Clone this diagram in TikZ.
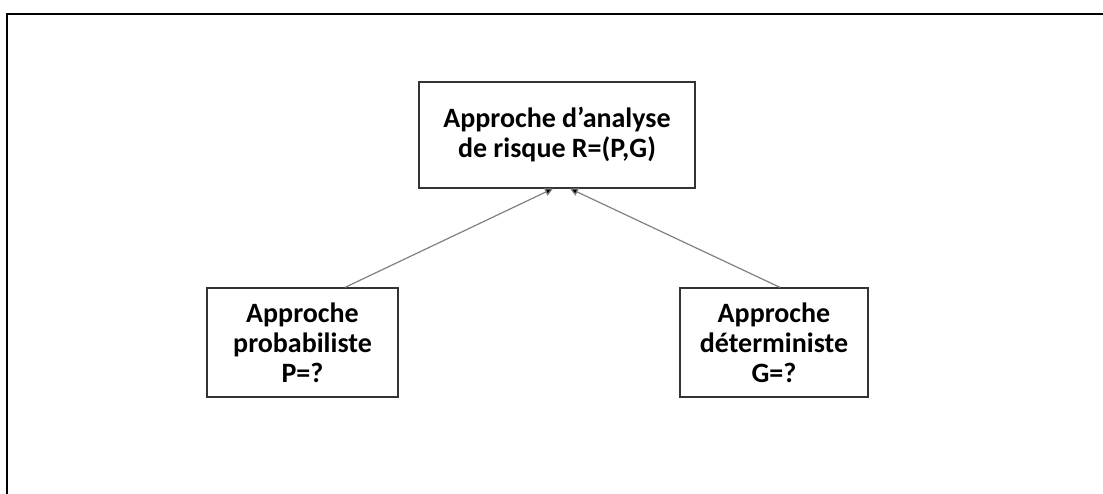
\documentclass[tikz,border=0pt]{standalone}
\usepackage{fontspec}
\setmainfont{Carlito}
\usetikzlibrary{arrows.meta}
\tikzset{
  box/.style={draw=black!80, line width=1.2pt, align=center, inner sep=0pt,
    font=\fontsize{28}{30}\selectfont\bfseries},
  conn/.style={draw=black!50, line width=1.2pt, -{Triangle[length=8pt,width=8pt,fill=black]}},
}
\begin{document}
\begin{tikzpicture}[x=1pt,y=1pt]
\useasboundingbox (0,0) rectangle (1103,494);
\draw[line width=2pt] (7,0) -- (7,480) -- (1103,480);
\node[box, minimum width=276pt, minimum height=106pt] (R) at (557,359) {Approche d’analyse\\de risque R=(P,G)};
\node[box, minimum width=191pt, minimum height=109pt] (P) at (302.5,151.5) {Approche\\probabiliste\\P=?};
\node[box, minimum width=188pt, minimum height=109pt] (G) at (774,151.5) {Approche\\déterministe\\G=?};
\draw[conn] ([xshift=42.5pt]P.north) -- ([xshift=-4pt]R.south);
\draw[conn] ([xshift=6pt]G.north) -- ([xshift=13pt]R.south);
\end{tikzpicture}
\end{document}
